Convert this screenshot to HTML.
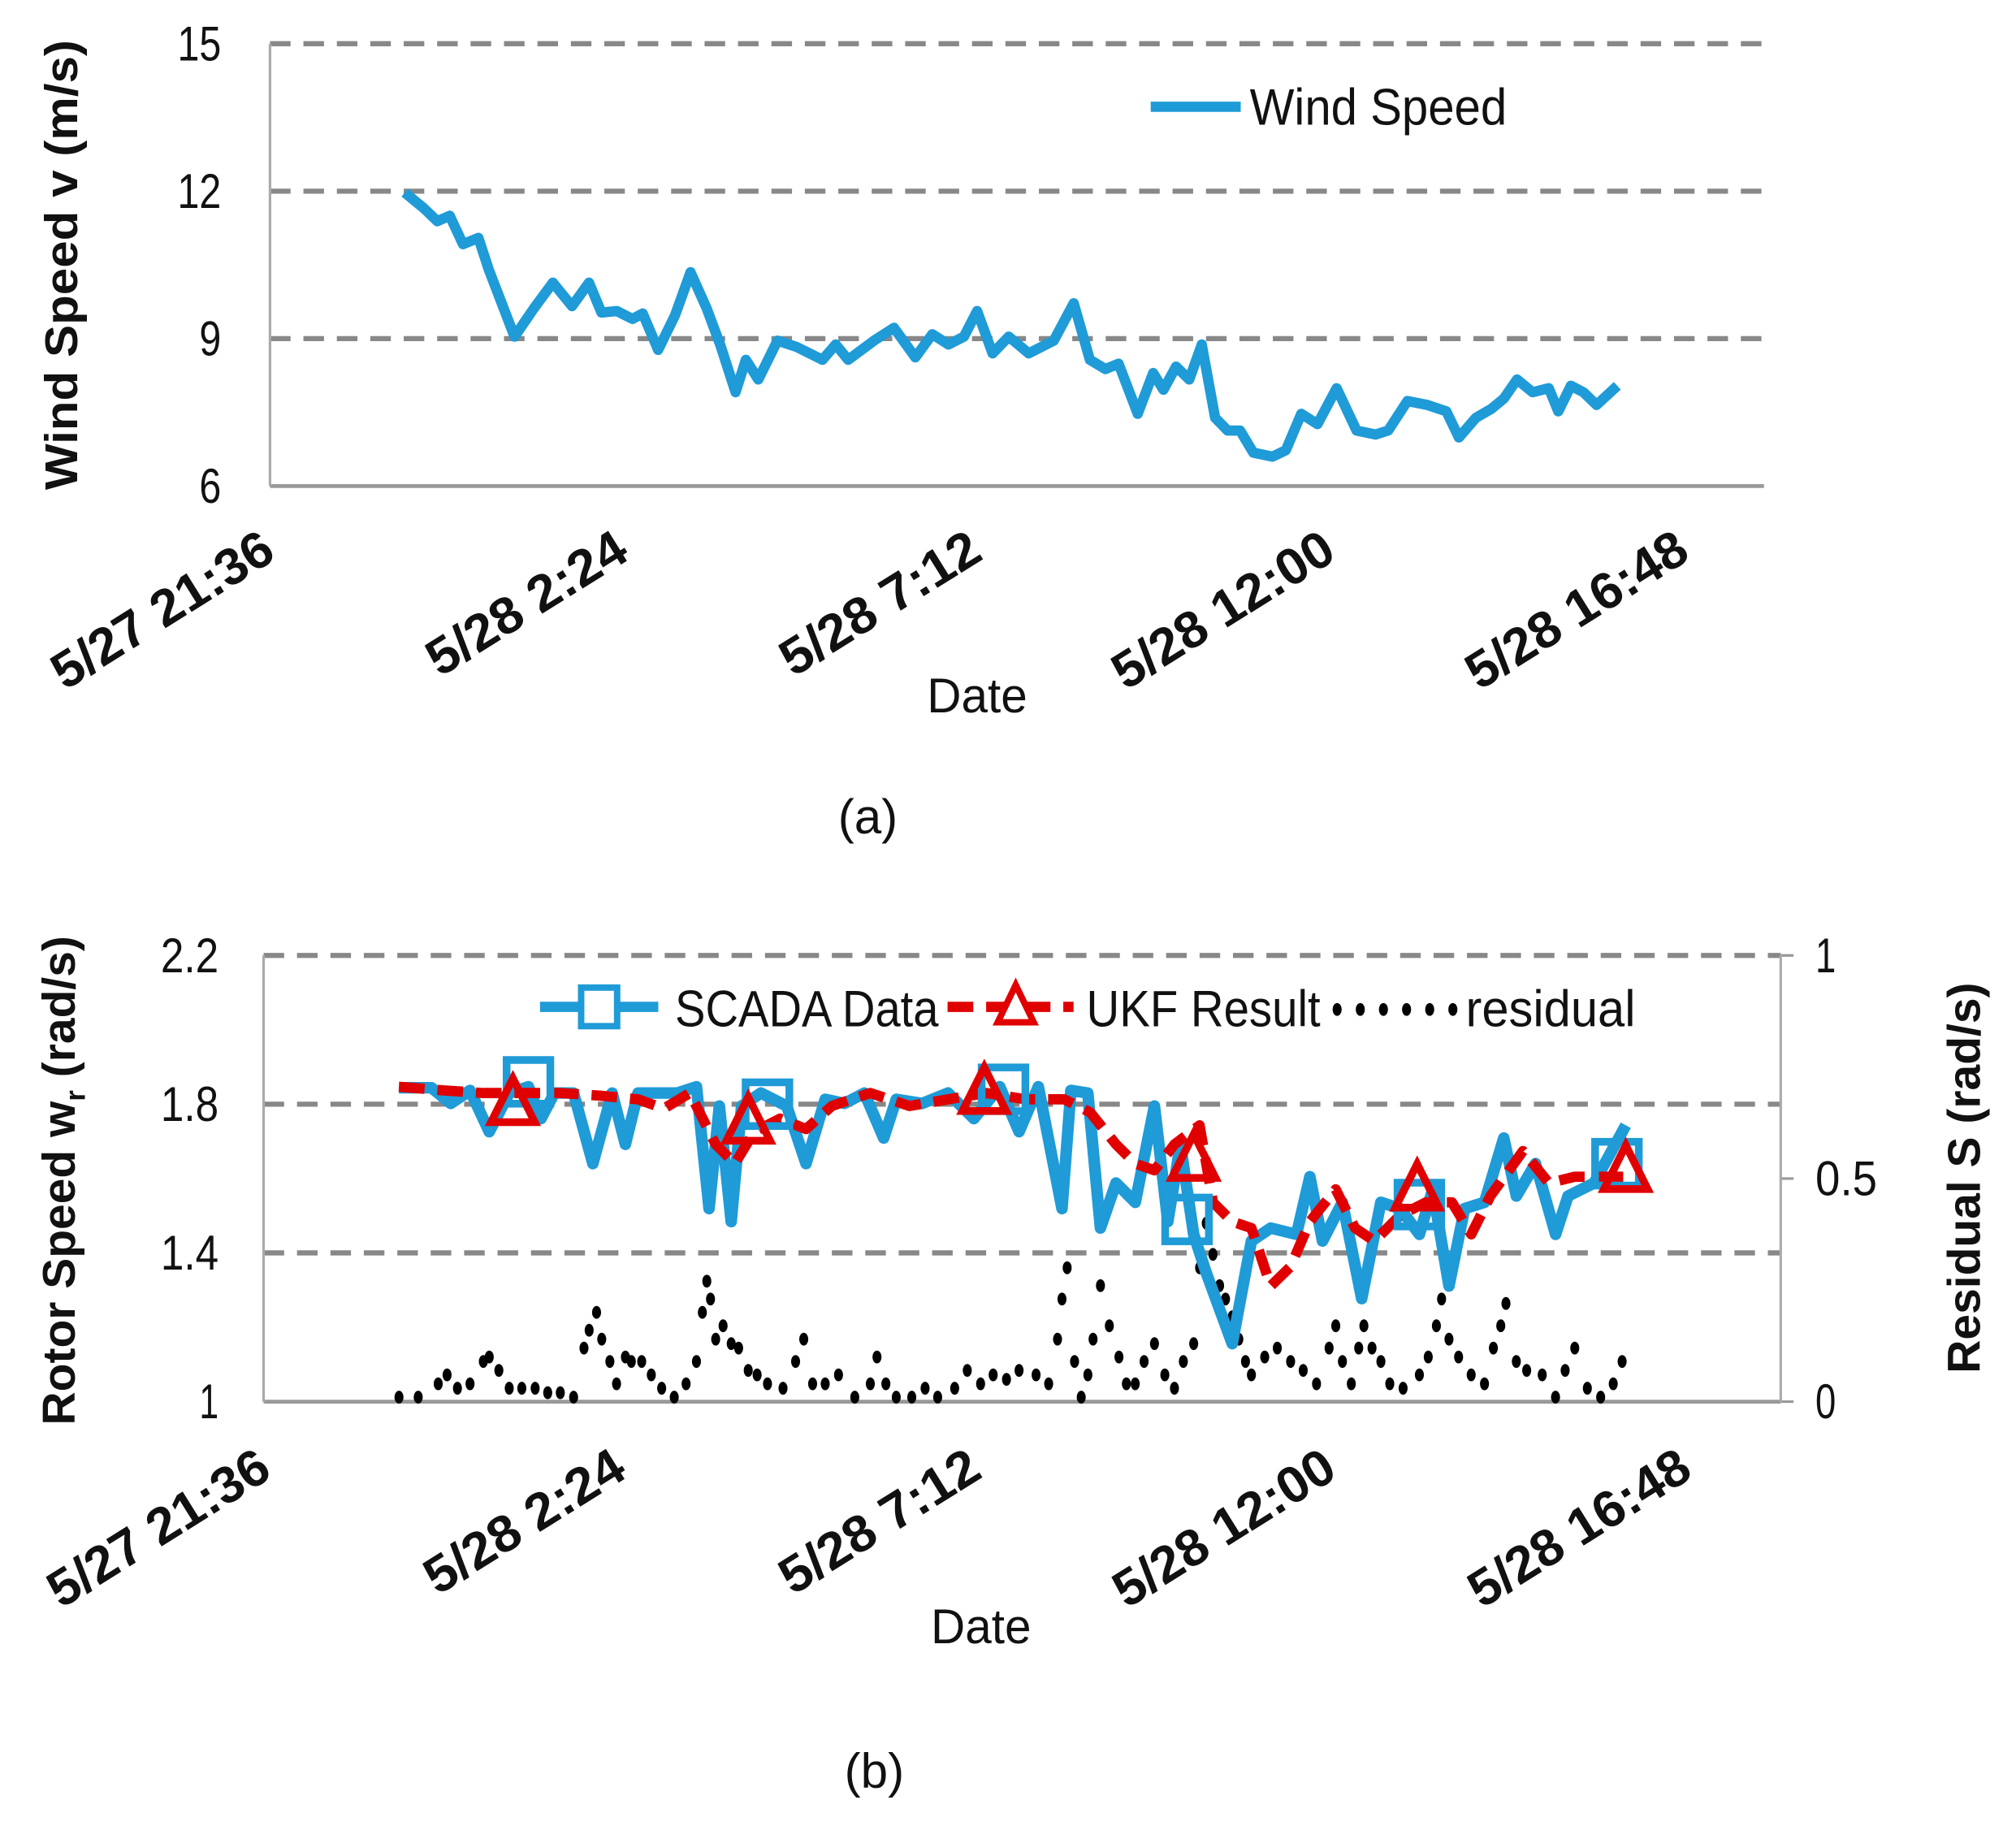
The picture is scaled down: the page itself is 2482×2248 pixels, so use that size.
<!DOCTYPE html>
<html><head><meta charset="utf-8"><style>
html,body{margin:0;padding:0;background:#fff}
svg{display:block}
text{font-family:"Liberation Sans Narrow","Liberation Sans",sans-serif;fill:#111}
</style></head><body>
<svg id="fig" width="2482" height="2248" viewBox="0 0 1568 1420" preserveAspectRatio="none" xmlns="http://www.w3.org/2000/svg"></svg>
<script>
// ---- shared x-axis (hours since 5/27 21:36) ----
const xTickLabels = ["5/27 21:36","5/28 2:24","5/28 7:12","5/28 12:00","5/28 16:48"];
const xTickHours = [0,4.8,9.6,14.4,19.2];
// ---- chart (a) data ----
const windTicks = [6,9,12,15];
const windHours = [1.83,2.09,2.27,2.44,2.62,2.83,2.97,3.14,3.32,3.58,3.84,4.10,4.33,4.50,4.71,4.92,5.06,5.27,5.50,5.71,5.93,6.11,6.32,6.46,6.63,6.89,7.15,7.50,7.68,7.85,8.20,8.47,8.76,8.99,9.21,9.42,9.60,9.81,10.03,10.30,10.64,10.91,11.13,11.34,11.52,11.78,11.99,12.13,12.30,12.48,12.65,12.83,13.00,13.17,13.35,13.61,13.79,14.00,14.22,14.48,14.75,15.01,15.18,15.44,15.71,15.97,16.14,16.37,16.58,16.75,16.93,17.14,17.36,17.49,17.66,17.83,18.01,18.29];
const windSpeed = [11.97,11.65,11.39,11.5,10.92,11.05,10.4,9.74,9.04,9.61,10.14,9.66,10.14,9.53,9.56,9.4,9.51,8.77,9.48,10.35,9.61,8.88,7.91,8.57,8.17,8.96,8.83,8.57,8.88,8.57,8.96,9.22,8.62,9.09,8.88,9.04,9.56,8.7,9.04,8.7,8.96,9.72,8.57,8.38,8.49,7.47,8.3,7.96,8.43,8.17,8.88,7.39,7.13,7.13,6.68,6.6,6.73,7.47,7.26,7.99,7.13,7.05,7.13,7.73,7.65,7.52,6.99,7.39,7.57,7.78,8.17,7.91,7.99,7.52,8.04,7.91,7.65,8.04];
// ---- chart (b) data ----
const rotorTicks = [1,1.4,1.8,2.2];
const residTicks = [0,0.5,1];
const scadaHours = [1.83,2.27,2.53,2.79,3.05,3.32,3.58,3.75,3.93,4.19,4.45,4.71,4.89,5.06,5.32,5.59,5.85,6.02,6.16,6.32,6.46,6.72,7.07,7.33,7.59,7.85,8.12,8.38,8.55,8.90,9.25,9.60,9.95,10.21,10.47,10.79,10.91,11.14,11.31,11.52,11.78,12.04,12.22,12.39,12.57,12.74,13.09,13.35,13.61,13.96,14.14,14.31,14.58,14.84,15.10,15.36,15.62,15.80,16.02,16.23,16.50,16.76,16.93,17.19,17.46,17.63,17.98,18.41];
const scadaValues = [1.844,1.844,1.802,1.837,1.726,1.83,1.847,1.761,1.83,1.83,1.64,1.83,1.692,1.83,1.83,1.83,1.847,1.519,1.795,1.484,1.795,1.83,1.795,1.64,1.813,1.802,1.83,1.709,1.813,1.802,1.83,1.761,1.847,1.726,1.847,1.519,1.837,1.83,1.467,1.588,1.536,1.795,1.484,1.692,1.45,1.346,1.156,1.432,1.467,1.45,1.605,1.432,1.536,1.277,1.536,1.519,1.45,1.571,1.311,1.519,1.536,1.709,1.553,1.64,1.45,1.553,1.588,1.743];
const ukfHours = [1.83,2.44,2.97,3.49,4.01,4.54,5.06,5.41,5.76,6.11,6.37,6.63,6.98,7.33,7.68,8.20,8.73,9.25,9.77,10.30,10.82,11.17,11.52,11.78,12.04,12.31,12.65,12.83,13.09,13.35,13.61,13.88,14.14,14.49,14.75,15.01,15.36,15.71,16.06,16.32,16.58,17.02,17.37,17.72,18.41];
const ukfValues = [1.847,1.837,1.83,1.83,1.83,1.823,1.813,1.788,1.83,1.692,1.64,1.726,1.761,1.733,1.795,1.83,1.795,1.813,1.83,1.813,1.813,1.778,1.692,1.64,1.622,1.692,1.743,1.536,1.484,1.467,1.311,1.363,1.484,1.571,1.467,1.432,1.501,1.536,1.536,1.45,1.553,1.674,1.588,1.605,1.605];
const squareHours = [3.58,6.81,10.0,12.48,15.62,18.29];
const squareValues = [1.86,1.80,1.84,1.49,1.53,1.64];
const triHours = [3.37,6.55,9.74,12.57,15.59,18.41];
const triValues = [1.80,1.75,1.83,1.65,1.57,1.62];
const residHours = [1.83,2.09,2.36,2.48,2.62,2.79,2.97,3.05,3.18,3.32,3.49,3.67,3.84,4.01,4.19,4.33,4.40,4.50,4.57,4.68,4.77,4.89,4.97,5.11,5.24,5.38,5.55,5.71,5.85,5.93,5.99,6.04,6.11,6.21,6.32,6.42,6.55,6.67,6.81,7.02,7.19,7.30,7.42,7.59,7.77,7.99,8.20,8.29,8.41,8.55,8.76,8.94,9.11,9.34,9.51,9.69,9.86,10.04,10.21,10.44,10.61,10.73,10.79,10.86,10.96,11.05,11.14,11.21,11.31,11.43,11.56,11.66,11.78,11.90,12.04,12.18,12.31,12.43,12.57,12.65,12.74,12.83,12.92,13.00,13.09,13.18,13.27,13.35,13.53,13.70,13.88,14.05,14.23,14.40,14.49,14.58,14.70,14.80,14.87,14.98,15.10,15.22,15.40,15.62,15.74,15.85,15.92,16.02,16.15,16.32,16.50,16.62,16.72,16.79,16.93,17.07,17.28,17.46,17.59,17.72,17.89,18.07,18.24,18.36];
const residValues = [.01,.01,.04,.06,.03,.04,.09,.10,.07,.03,.03,.03,.02,.02,.01,.12,.16,.20,.14,.09,.04,.10,.09,.09,.06,.03,.01,.04,.09,.20,.27,.23,.14,.17,.13,.12,.07,.06,.04,.03,.09,.14,.04,.04,.06,.01,.04,.10,.04,.01,.01,.03,.01,.03,.07,.04,.06,.05,.07,.06,.04,.14,.23,.30,.09,.01,.06,.14,.26,.17,.10,.04,.04,.09,.13,.06,.03,.09,.13,.30,.40,.33,.26,.23,.19,.14,.09,.06,.10,.12,.09,.07,.04,.12,.17,.09,.04,.12,.17,.12,.09,.04,.03,.06,.10,.17,.23,.14,.10,.06,.04,.12,.17,.22,.09,.07,.06,.01,.07,.12,.03,.01,.04,.09];

const NS="http://www.w3.org/2000/svg";
const svg=document.getElementById('fig');
function el(tag,attrs,parent,txt){const e=document.createElementNS(NS,tag);for(const k in attrs)e.setAttribute(k,attrs[k]);if(txt!==undefined)e.textContent=txt;(parent||svg).appendChild(e);return e;}
function pathD(xs,ys,fx,fy){return xs.map((h,i)=>(i?'L':'M')+fx(h).toFixed(1)+' '+fy(ys[i]).toFixed(1)).join(' ');}

// ===== Chart (a) =====
const A={l:210,r:1372,t:34,b:378};
const xa=h=>A.l+h*(1100/19.2);
const ya=v=>A.b-(v-6)/9*(A.b-A.t);
const gA=el('g',{});

windTicks.forEach(v=>{
  if(v!==6){const g=el('line',{x1:A.l,x2:A.r,y1:ya(v),y2:ya(v),stroke:'#888','stroke-width':4,'stroke-dasharray':'16 10'},gA);
  }
  const t=el('text',{x:172,y:ya(v)+13,'text-anchor':'end','font-size':38,textLength:String(v).length*17,lengthAdjust:'spacingAndGlyphs'},gA,String(v));
  
});
let ax=el('line',{x1:A.l,x2:A.r,y1:A.b,y2:A.b,stroke:'#999','stroke-width':3},gA);

ax=el('line',{x1:A.l,x2:A.l,y1:A.t,y2:A.b,stroke:'#aaa','stroke-width':2},gA);

let ln=el('path',{d:pathD(windHours,windSpeed,xa,ya),fill:'none',stroke:'#1f9bd7','stroke-width':8,'stroke-linejoin':'round'},gA);

xTickHours.forEach((h,i)=>{
  const t=el('text',{transform:`translate(${xa(h)+6},${434}) rotate(-32)`,'text-anchor':'end','font-size':40,'font-weight':'bold',textLength:xTickLabels[i].length*19.5,lengthAdjust:'spacingAndGlyphs'},gA,xTickLabels[i]);
  
});
let tt=el('text',{x:760,y:554,'text-anchor':'middle','font-size':38,textLength:78,lengthAdjust:'spacingAndGlyphs'},gA,'Date');

tt=el('text',{transform:'translate(60,206) rotate(-90)','text-anchor':'middle','font-size':36,'font-weight':'bold','font-family':'Liberation Sans',textLength:350,lengthAdjust:'spacingAndGlyphs'},gA,'Wind Speed v (m/s)');

let lg=el('g',{},gA);
el('line',{x1:895,x2:965,y1:83,y2:83,stroke:'#1f9bd7','stroke-width':8},lg);
el('text',{x:972,y:97,'font-size':40,textLength:200,lengthAdjust:'spacingAndGlyphs'},lg,'Wind Speed');
tt=el('text',{x:675,y:648,'text-anchor':'middle','font-size':38,'font-family':'Liberation Serif'},gA,'(a)');


// ===== Chart (b) =====
const B={l:205,r:1385,t:743,b:1090};
const xb=h=>B.l+h*(1105/19.2);
const yb=v=>B.b-(v-1)/1.2*(B.b-B.t);
const yr=v=>B.b-v*(B.b-B.t);
const gB=el('g',{});
rotorTicks.forEach(v=>{
  if(v!==1){const g=el('line',{x1:B.l,x2:B.r,y1:yb(v),y2:yb(v),stroke:'#888','stroke-width':4,'stroke-dasharray':'16 10'},gB);
  }
  const t=el('text',{x:170,y:yb(v)+13,'text-anchor':'end','font-size':38,textLength:String(v).length*15,lengthAdjust:'spacingAndGlyphs'},gB,String(v));
  
});
residTicks.forEach(v=>{
  el('line',{x1:B.r,x2:B.r+10,y1:yr(v),y2:yr(v),stroke:'#999','stroke-width':2},gB);
  const t=el('text',{x:1412,y:yr(v)+13,'font-size':38,textLength:String(v).length*16,lengthAdjust:'spacingAndGlyphs'},gB,String(v));
  
});
ax=el('line',{x1:B.l,x2:B.r,y1:B.b,y2:B.b,stroke:'#999','stroke-width':3},gB);

ax=el('line',{x1:B.l,x2:B.l,y1:B.t,y2:B.b,stroke:'#aaa','stroke-width':2},gB);

ax=el('line',{x1:B.r,x2:B.r,y1:B.t,y2:B.b,stroke:'#aaa','stroke-width':2},gB);

residHours.forEach((h,i)=>{
  const d=el('ellipse',{cx:xb(h),cy:yr(residValues[i]),rx:3.5,ry:5,fill:'#000'},gB);
  
});
ln=el('path',{d:pathD(scadaHours,scadaValues,xb,yb),fill:'none',stroke:'#1f9bd7','stroke-width':9,'stroke-linejoin':'round'},gB);

ln=el('path',{d:pathD(ukfHours,ukfValues,xb,yb),fill:'none',stroke:'#e00000','stroke-width':8,'stroke-dasharray':'20 10','stroke-linejoin':'round'},gB);

squareHours.forEach((h,i)=>{
  const s=el('rect',{x:xb(h)-17,y:yb(squareValues[i])-17,width:34,height:34,fill:'none',stroke:'#1f9bd7','stroke-width':6},gB);
  
});
triHours.forEach((h,i)=>{
  const cx=xb(h),cy=yb(triValues[i]);
  const p=el('polygon',{points:`${cx},${cy-20} ${cx+17},${cy+14} ${cx-17},${cy+14}`,fill:'none',stroke:'#e00000','stroke-width':6},gB);
  
});
xTickHours.forEach((h,i)=>{
  const t=el('text',{transform:`translate(${xb(h)+8},${1148}) rotate(-32)`,'text-anchor':'end','font-size':40,'font-weight':'bold',textLength:xTickLabels[i].length*19.5,lengthAdjust:'spacingAndGlyphs'},gB,xTickLabels[i]);
  
});
tt=el('text',{x:763,y:1278,'text-anchor':'middle','font-size':38,textLength:78,lengthAdjust:'spacingAndGlyphs'},gB,'Date');

tt=el('text',{transform:'translate(58,918) rotate(-90)','text-anchor':'middle','font-size':36,'font-weight':'bold','font-family':'Liberation Sans'},gB);

el('tspan',{},tt,'Rotor Speed w');el('tspan',{'font-size':22,dy:8},tt,'r');el('tspan',{dy:-8},tt,' (rad/s)');
tt=el('text',{transform:'translate(1540,916) rotate(-90)','text-anchor':'middle','font-size':36,'font-weight':'bold','font-family':'Liberation Sans'},gB,'Residual S (rad/s)');

lg=el('g',{},gB);
el('line',{x1:420,x2:512,y1:783,y2:783,stroke:'#1f9bd7','stroke-width':8},lg);
el('rect',{x:452,y:768,width:28,height:30,fill:'#fff',stroke:'#1f9bd7','stroke-width':5},lg);
el('text',{x:525,y:798,'font-size':40,textLength:205,lengthAdjust:'spacingAndGlyphs'},lg,'SCADA Data');
el('line',{x1:737,x2:835,y1:783,y2:783,stroke:'#e00000','stroke-width':8,'stroke-dasharray':'20 10'},lg);
el('polygon',{points:'790,766 804,795 776,795',fill:'#fff',stroke:'#e00000','stroke-width':5},lg);
el('text',{x:845,y:798,'font-size':40,textLength:182,lengthAdjust:'spacingAndGlyphs'},lg,'UKF Result');
[1040,1058,1076,1094,1112,1130].forEach(x=>el('ellipse',{cx:x,cy:785,rx:3.5,ry:5,fill:'#000'},lg));
el('text',{x:1140,y:798,'font-size':40,textLength:132,lengthAdjust:'spacingAndGlyphs'},lg,'residual');
tt=el('text',{x:680,y:1390,'text-anchor':'middle','font-size':38,'font-family':'Liberation Serif'},gB,'(b)');

</script>
</body></html>
